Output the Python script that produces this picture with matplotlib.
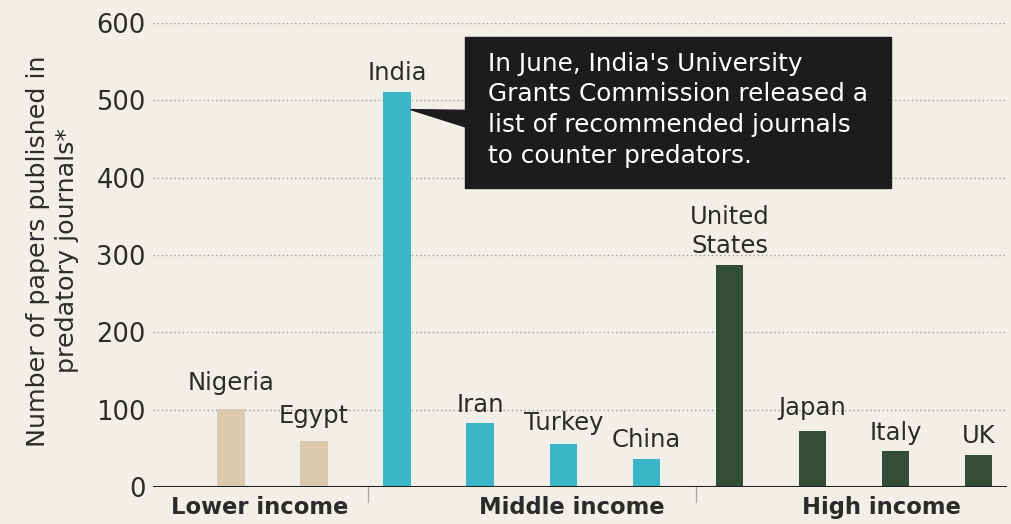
#!/usr/bin/env python3
"""Papers published in predatory journals, by country and income group."""

import matplotlib.pyplot as plt
from matplotlib.patches import Polygon, Rectangle

countries = ["Nigeria", "Egypt", "India", "Iran", "Turkey", "China",
             "United\nStates", "Japan", "Italy", "UK"]
papers = [101, 60, 511, 83, 56, 36, 287, 72, 47, 41]
groups = ["Lower", "Lower", "Middle", "Middle", "Middle", "Middle",
          "High", "High", "High", "High"]
group_names = ["Lower income", "Middle income", "High income"]
yticks = [0, 100, 200, 300, 400, 500, 600]
note = ("In June, India's University\nGrants Commission released a\n"
        "list of recommended journals\nto counter predators.")

BG = "#f2efe9"
COLORS = {"Lower": "#dccab0", "Middle": "#3bb6c9", "High": "#344d37"}
TXT = "#2b2b2b"
label_pad = [13.5, 13, 8.5, 8, 10, 8.5, 8.5, 11.5, 8, 8.5]  # points above bar
group_label_x = [0.35, 4.1, 7.83]
separators = [1.65, 5.6]

plt.rcParams["font.family"] = ["DejaVu Sans"]

fig = plt.figure(figsize=(10.12, 5.24), dpi=100, facecolor=BG)
ax = fig.add_axes([0.151, 0.0706, 0.844, 0.8855], facecolor=BG)

xs = list(range(len(countries)))
ax.bar(xs, papers, width=0.33, color=[COLORS[g] for g in groups], zorder=3)

for x, v, name, pad in zip(xs, papers, countries, label_pad):
    ax.annotate(name, (x, v), xytext=(0, pad), textcoords="offset points",
                ha="center", va="baseline", fontsize=17.5, color=TXT,
                linespacing=1.3, zorder=4)

ax.set_xlim(-0.94, 9.34)
ax.set_ylim(0, 600)
ax.set_yticks(yticks)
ax.set_yticklabels([str(t) for t in yticks], fontsize=18.5, color=TXT)
ax.tick_params(axis="y", length=0, pad=5)
ax.set_xticks([])
for s in ax.spines.values():
    s.set_visible(False)
for t in yticks[1:]:
    ax.axhline(t, color="#9a9a9a", lw=1, ls=(0, (1, 2)), zorder=1)
ax.axhline(0, color="#222222", lw=2.2, zorder=5)

# group separators and labels
for sep in separators:
    ax.plot([sep, sep], [0, -20], color="#aaaaaa", lw=1, clip_on=False)
for gx, name in zip(group_label_x, group_names):
    ax.text(gx, -12, name, ha="center", va="top", fontsize=16.3,
            fontweight="bold", color=TXT)

fig.text(0.052, 0.521, "Number of papers published in\npredatory journals*",
         rotation=90, ha="center", va="center", fontsize=18.3, color=TXT,
         linespacing=1.25)

# annotation box for India
box_x0, box_x1, box_y0, box_y1 = 2.82, 7.95, 387, 582
ax.add_patch(Rectangle((box_x0, box_y0), box_x1 - box_x0, box_y1 - box_y0,
                       color="#1c1c1c", zorder=6, clip_on=False))
ax.add_patch(Polygon([(2 + 0.165, 488), (box_x0 + 0.02, 487),
                      (box_x0 + 0.02, 465)], closed=True,
                     color="#1c1c1c", zorder=6))
ax.text(box_x0 + 0.27, box_y1 - 19, note, ha="left", va="top", fontsize=17.8,
        color="white", linespacing=1.36, zorder=7)

fig.savefig("out.png", dpi=100, facecolor=BG)
